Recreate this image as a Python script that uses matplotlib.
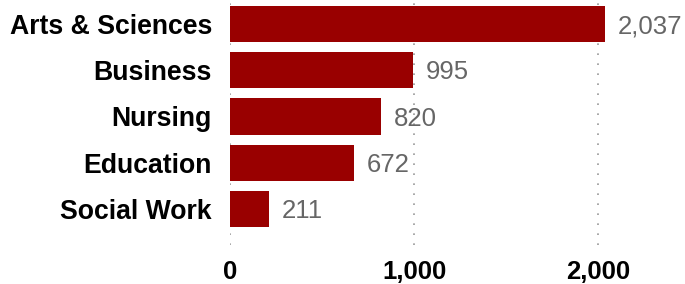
import matplotlib
matplotlib.use("Agg")
import matplotlib.pyplot as plt
from matplotlib.ticker import FuncFormatter

colleges = ["Arts & Sciences", "Business", "Nursing", "Education", "Social Work"]
counts = [2037, 995, 820, 672, 211]
x_ticks = [0, 1000, 2000]

plt.rcParams['font.family'] = ['Liberation Sans', 'DejaVu Sans']

fig = plt.figure(figsize=(6.85, 2.84), dpi=100)
ax = fig.add_axes([230 / 685, 1 - 245 / 284, 1 - 230 / 685, 245 / 284])

ypos = list(range(len(colleges)))
ax.barh(ypos, counts, height=0.78, color="#990000", zorder=2)

# value labels to the right of each bar
for y, v in zip(ypos, counts):
    ax.annotate(f"{v:,}", xy=(v, y), xytext=(9, -1.5), textcoords="offset points",
                ha="left", va="center", fontsize=18.5, color="#666666")

ax.set_yticks(ypos)
ax.set_yticklabels(colleges, fontsize=19.2, fontweight="bold")
ax.set_ylim(4.78, -0.52)
ax.set_xlim(0, 2470)
ax.set_xticks(x_ticks)
ax.xaxis.set_major_formatter(FuncFormatter(lambda v, p: f"{int(v):,}"))
for lbl in ax.get_xticklabels():
    lbl.set_fontweight("bold")
    lbl.set_fontsize(18.5)

ax.tick_params(axis="y", length=0, pad=13)
ax.tick_params(axis="x", length=0, pad=10.5)
ax.grid(axis="x", linestyle=(0, (1, 5)), color="#999999", linewidth=1.2, zorder=0)
for s in ax.spines.values():
    s.set_visible(False)

fig.savefig("out.png", dpi=100)
